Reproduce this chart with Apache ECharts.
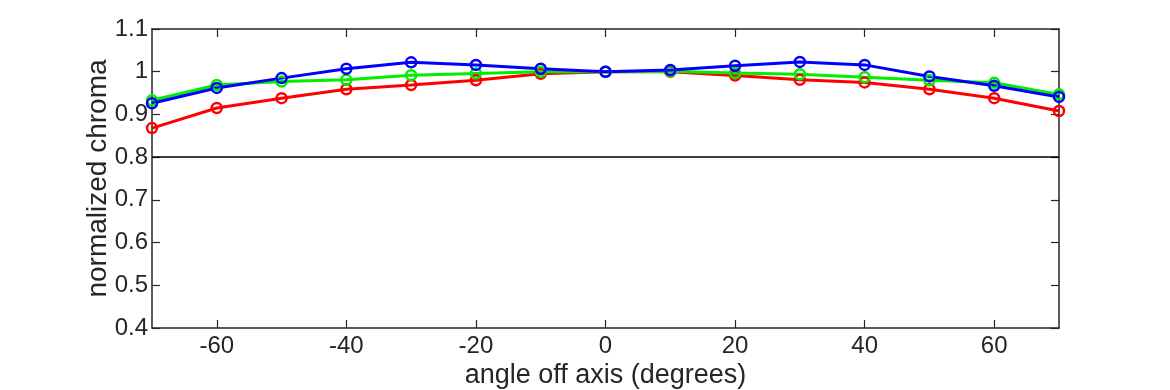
<!DOCTYPE html>
<html>
<head>
<meta charset="utf-8">
<script src="https://cdn.jsdelivr.net/npm/echarts@6/dist/echarts.min.js"></script>
<style>html,body{margin:0;padding:0;background:#fff}#c{width:1170px;height:390px}</style>
</head>
<body>
<div id="c"></div>
<script>
var angles = [-70, -60, -50, -40, -30, -20, -10, 0, 10, 20, 30, 40, 50, 60, 70];
var redVals = [0.868, 0.915, 0.938, 0.959, 0.969, 0.980, 0.995, 1.0, 1.0, 0.991, 0.981, 0.975, 0.959, 0.938, 0.908];
var greenVals = [0.933, 0.969, 0.977, 0.981, 0.992, 0.996, 1.0, 1.0, 1.001, 0.997, 0.994, 0.987, 0.980, 0.974, 0.947];
var blueVals = [0.926, 0.962, 0.985, 1.007, 1.022, 1.016, 1.007, 1.0, 1.004, 1.014, 1.023, 1.016, 0.989, 0.967, 0.941];
var xTicks = [-60, -40, -20, 0, 20, 40, 60];
var yTicks = [0.4, 0.5, 0.6, 0.7, 0.8, 0.9, 1.0, 1.1];
var refLine = 0.8;

function pairs(v) { return angles.map(function (a, i) { return [a, v[i]]; }); }

var axisCol = '#262626';
var font = 'Liberation Sans, Arial, Helvetica, sans-serif';
function mkSeries(name, color, vals, extra) {
  var s = {
    name: name, type: 'line', data: pairs(vals),
    symbol: 'circle', symbolSize: 10, showSymbol: true,
    lineStyle: { color: color, width: 3 },
    itemStyle: { color: 'rgba(255,255,255,0)', borderColor: color, borderWidth: 2.5 },
    emphasis: { disabled: true }, animation: false, z: 3
  };
  if (extra) Object.assign(s, extra);
  return s;
}

var chart = echarts.init(document.getElementById('c'), null, { renderer: 'canvas' });
chart.setOption({
  backgroundColor: '#ffffff',
  animation: false,
  grid: { left: 152, right: 111, top: 29, bottom: 62, outerBoundsMode: 'none', containLabel: false },
  xAxis: [{
    type: 'value', min: -70, max: 70, position: 'bottom',
    name: 'angle off axis (degrees)', nameLocation: 'middle', nameGap: 34, nameMoveOverlap: false,
    nameTextStyle: { fontSize: 27, color: axisCol, fontFamily: font },
    axisLine: { show: true, onZero: false, lineStyle: { color: axisCol, width: 1.5 } },
    axisTick: { show: true, inside: true, length: 8, customValues: xTicks, lineStyle: { color: axisCol, width: 1.2 } },
    axisLabel: { show: true, customValues: xTicks, fontSize: 24, color: axisCol, fontFamily: font, margin: 6 },
    splitLine: { show: false }
  }, {
    type: 'value', min: -70, max: 70, position: 'top',
    axisLine: { show: true, onZero: false, lineStyle: { color: axisCol, width: 1.5 } },
    axisTick: { show: true, inside: true, length: 8, customValues: xTicks, lineStyle: { color: axisCol, width: 1.2 } },
    axisLabel: { show: false }, splitLine: { show: false }
  }],
  yAxis: [{
    type: 'value', min: 0.4, max: 1.1, interval: 0.1, position: 'left',
    name: 'normalized chroma', nameLocation: 'middle', nameGap: 40, nameMoveOverlap: false,
    nameTextStyle: { fontSize: 28, color: axisCol, fontFamily: font },
    axisLine: { show: true, onZero: false, lineStyle: { color: axisCol, width: 1.5 } },
    axisTick: { show: true, inside: true, length: 8, lineStyle: { color: axisCol, width: 1.2 } },
    axisLabel: { show: true, fontSize: 24, color: axisCol, fontFamily: font, margin: 4,
      formatter: function (v) { return String(Math.round(v * 10) / 10); } },
    splitLine: { show: false }
  }, {
    type: 'value', min: 0.4, max: 1.1, interval: 0.1, position: 'right',
    axisLine: { show: true, onZero: false, lineStyle: { color: axisCol, width: 1.5 } },
    axisTick: { show: true, inside: true, length: 8, lineStyle: { color: axisCol, width: 1.2 } },
    axisLabel: { show: false }, splitLine: { show: false }
  }],
  series: [
    mkSeries('red', '#ff0000', redVals, {
      markLine: {
        silent: true, symbol: ['none', 'none'], label: { show: false },
        lineStyle: { color: '#000000', width: 1.5, type: 'solid' },
        data: [{ yAxis: refLine }], animation: false
      }
    }),
    mkSeries('green', '#00ee00', greenVals),
    mkSeries('blue', '#0000ff', blueVals)
  ]
});
</script>
</body>
</html>
